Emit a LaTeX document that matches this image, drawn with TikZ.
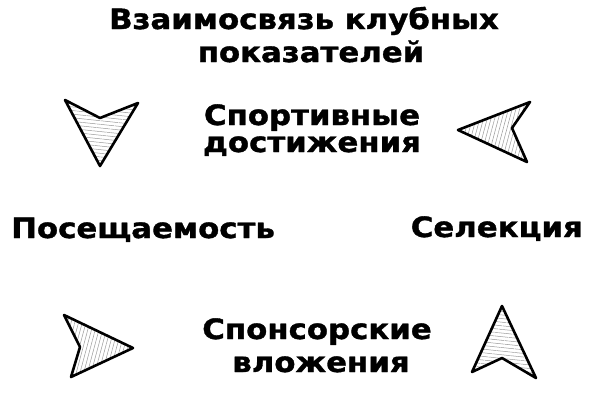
\documentclass[tikz,border=0pt]{standalone}
\usepackage{fontspec}
\setmainfont{DejaVu Sans}[FakeStretch=1.1, BoldFeatures={FakeBold=1.3}]
\usetikzlibrary{patterns.meta}
\begin{document}
\begin{tikzpicture}[x=1pt,y=-1pt,
  lbl/.style={font=\bfseries\fontsize{28}{28}\selectfont, inner sep=0pt, text=black},
  arrowhead/.style={draw=black, line width=2.6pt, line join=round},
  hatchH/.style={pattern={Lines[angle=-6,distance=3.6pt,line width=0.5pt]}, pattern color=black!40},
  hatchV/.style={pattern={Lines[angle=75,distance=3.6pt,line width=0.5pt]}, pattern color=black!40}]
\useasboundingbox[fill=white] (0,0) rectangle (600,407);
% texts
\node[lbl, anchor=base] (t1) at (304,29) {Взаимосвязь клубных};
\node[lbl, anchor=base] (t2) at (311,62) {показателей};
\node[lbl, anchor=base] (s1) at (312,125) {Спортивные};
\node[lbl, anchor=base] (s2) at (312,152) {достижения};
\node[lbl, anchor=base west] (p) at (11,238) {Посещаемость};
\node[lbl, anchor=base east] (c) at (583,237) {Селекция};
\node[lbl, anchor=base] (v1) at (317,339) {Спонсорские};
\node[lbl, anchor=base] (v2) at (321,372) {вложения};
% arrowheads
\draw[arrowhead, hatchH] (65,100) -- (100,118) -- (138,103) -- (100,166) -- cycle;
\draw[arrowhead, hatchV] (458,130) -- (530,102) -- (512,128) -- (527,162) -- cycle;
\draw[arrowhead, hatchV] (64,315) -- (133,348) -- (71,377) -- (80,347) -- cycle;
\draw[arrowhead, hatchH] (502,306) -- (536,378) -- (502,358) -- (472,372) -- cycle;
\end{tikzpicture}
\end{document}
